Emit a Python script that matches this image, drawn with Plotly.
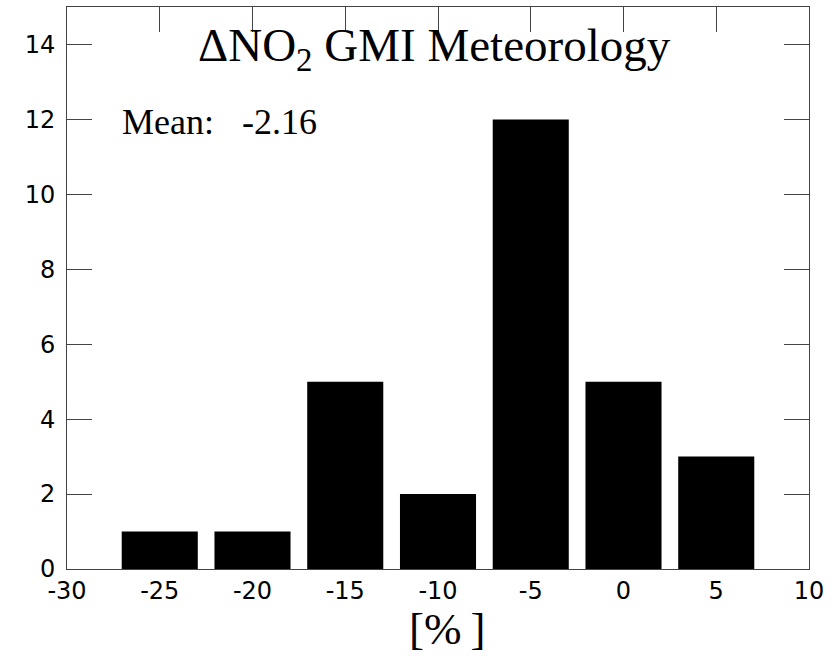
import plotly.graph_objects as go

bin_centers = [-25, -20, -15, -10, -5, 0, 5]
counts = [1, 1, 5, 2, 12, 5, 3]
x_ticks = [-30, -25, -20, -15, -10, -5, 0, 5, 10]
y_ticks = [0, 2, 4, 6, 8, 10, 12, 14]
mean_value = -2.16

serif = "Liberation Serif, Times New Roman, serif"
sans = "DejaVu Sans, sans-serif"

fig = go.Figure()
fig.add_trace(go.Bar(x=bin_centers, y=counts, marker=dict(color="black", line=dict(width=0)),
                     showlegend=False))

axis_common = dict(showgrid=False, zeroline=False, showline=True, linecolor="#444444", linewidth=1,
                   ticks="inside", ticklen=25, tickwidth=1, tickcolor="#444444", mirror="ticks",
                   tickfont=dict(family=sans, size=24, color="black"))

fig.update_xaxes(range=[-30, 10], tickvals=x_ticks, ticktext=[str(v) for v in x_ticks],
                 layer="below traces", **axis_common)
fig.update_yaxes(range=[0, 15], tickvals=y_ticks, ticktext=[str(v) for v in y_ticks],
                 ticklabelstandoff=6, **axis_common)

fig.add_annotation(x=-10.2, y=13.9, xref="x", yref="y", text="ΔNO<sub>2</sub> GMI Meteorology",
                   showarrow=False, xanchor="center", yanchor="middle",
                   font=dict(family=serif, size=47, color="black"))
fig.add_annotation(x=-27.14, y=11.92, xref="x", yref="y", text="Mean:",
                   showarrow=False, xanchor="left", yanchor="middle",
                   font=dict(family=serif, size=36, color="black"))
fig.add_annotation(x=-20.67, y=11.92, xref="x", yref="y", text=f"{mean_value:.2f}",
                   showarrow=False, xanchor="left", yanchor="middle",
                   font=dict(family=serif, size=36, color="black"))
fig.add_annotation(x=-9.5, y=-0.107, xref="x", yref="paper", text="[%\u2009]",
                   showarrow=False, xanchor="center", yanchor="middle",
                   font=dict(family=serif, size=45, color="black"))

fig.update_layout(width=835, height=656, bargap=0.18,
                  margin=dict(l=67, r=26, t=7, b=87),
                  paper_bgcolor="white", plot_bgcolor="white")

fig.write_html("out.html")
